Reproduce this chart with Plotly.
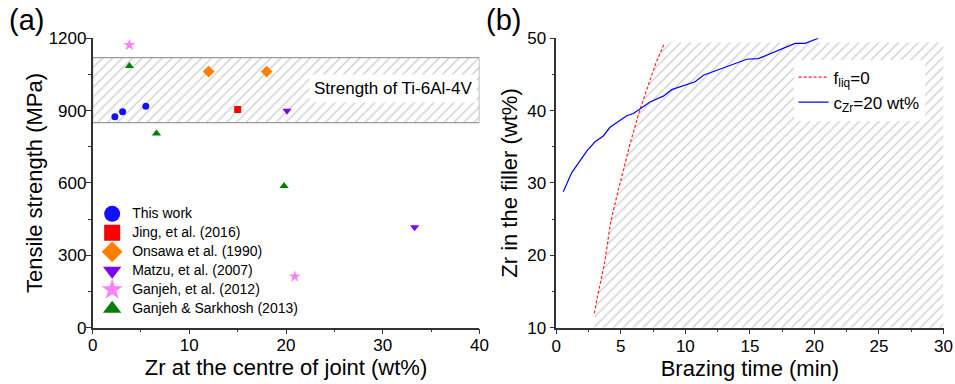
import plotly.graph_objects as go

# ---------------- Panel (a) data ----------------
this_work_x = [2.3, 3.1, 5.5]
this_work_y = [875, 895, 918]
jing_x = [15.0]
jing_y = [905]
onsawa_x = [12.0, 18.0]
onsawa_y = [1062, 1062]
matzu_x = [20.1, 33.3]
matzu_y = [900, 416]
ganjeh12_x = [3.8, 20.9]
ganjeh12_y = [1172, 212]
ganjeh13_x = [3.8, 6.6, 19.8]
ganjeh13_y = [1085, 805, 588]
band_low, band_high = 850, 1120
band_x = [0, 40]

# ---------------- Panel (b) data ----------------
fliq_x = [2.95, 3.2, 3.75, 4.2, 4.8, 5.7, 6.4, 7.1, 7.7, 8.35]
fliq_y = [12.0, 14.4, 19.0, 24.5, 29.0, 35.3, 39.7, 43.4, 46.5, 49.2]
czr_x = [0.54, 1.19, 2.36, 3.0, 3.64, 4.16, 5.46, 5.97, 7.26, 8.29, 8.94,
         10.75, 11.4, 14.76, 15.66, 18.5, 19.28, 20.3]
czr_y = [28.8, 31.4, 34.4, 35.7, 36.5, 37.7, 39.3, 39.6, 41.2, 42.0, 42.9,
         44.0, 44.9, 47.1, 47.2, 49.3, 49.3, 50.0]
region_top = 49.4
region_right = 30
region_bottom = 10

FONT = "Liberation Sans, Arial, sans-serif"
AX = "#333333"
HATCH = dict(shape="/", fgcolor="#9a9a9a", bgcolor="white", size=7, solidity=0.18)

fig = go.Figure()

# band in (a)
fig.add_trace(go.Scatter(
    x=[band_x[0], band_x[1], band_x[1], band_x[0], band_x[0]],
    y=[band_low, band_low, band_high, band_high, band_low],
    mode="lines", fill="toself", fillpattern=HATCH, fillcolor="white",
    line=dict(color="#9a9a9a", width=1.2), showlegend=False, hoverinfo="skip",
    xaxis="x", yaxis="y"))

series = [
    ("This work", this_work_x, this_work_y, "circle", "#1010ff", 7),
    ("Jing, et al. (2016)", jing_x, jing_y, "square", "#ff0000", 7),
    ("Onsawa et al. (1990)", onsawa_x, onsawa_y, "diamond", "#ff8000", 9),
    ("Matzu, et al. (2007)", matzu_x, matzu_y, "triangle-down", "#8000ff", 8),
    ("Ganjeh, et al. (2012)", ganjeh12_x, ganjeh12_y, "star", "#ff80ff", 9),
    ("Ganjeh & Sarkhosh (2013)", ganjeh13_x, ganjeh13_y, "triangle-up", "#008000", 8),
]
for name, xs, ys, sym, col, sz in series:
    fig.add_trace(go.Scatter(x=xs, y=ys, mode="markers", name=name,
                             marker=dict(symbol=sym, color=col, size=sz, line=dict(width=0)),
                             showlegend=False, xaxis="x", yaxis="y"))
    fig.add_trace(go.Scatter(x=[None], y=[None], mode="markers",
                             name='<span style="font-size:14px">' + name + '</span>',
                             marker=dict(symbol=sym, color=col, size=16, line=dict(width=0)),
                             showlegend=True, legend="legend", xaxis="x", yaxis="y"))

# hatched region in (b)
poly_x = fliq_x + [fliq_x[-1], region_right, region_right, fliq_x[0]]
poly_y = fliq_y + [region_top, region_top, region_bottom, region_bottom]
fig.add_trace(go.Scatter(
    x=poly_x, y=poly_y, mode="lines", fill="toself", fillpattern=HATCH,
    fillcolor="white", line=dict(width=0, color="rgba(0,0,0,0)"),
    showlegend=False, hoverinfo="skip", xaxis="x2", yaxis="y2"))

fig.add_trace(go.Scatter(x=fliq_x, y=fliq_y, mode="lines", name="f<sub>liq</sub>=0",
                         line=dict(color="#ff2020", width=1.2, dash="3px,2px"),
                         legend="legend2", xaxis="x2", yaxis="y2"))
fig.add_trace(go.Scatter(x=czr_x, y=czr_y, mode="lines", name="c<sub>Zr</sub>=20 wt%",
                         line=dict(color="#0000ff", width=1.2),
                         legend="legend2", xaxis="x2", yaxis="y2"))

axis_common = dict(showline=True, linecolor=AX, linewidth=1.5, mirror=False,
                   ticks="outside", ticklen=5, tickwidth=1.3, tickcolor=AX,
                   showgrid=False, zeroline=False, automargin=False,
                   tickfont=dict(family=FONT, size=17, color="black"))
minor_common = dict(ticklen=3, ticks="outside", tickcolor=AX)

fig.update_layout(
    width=955, height=384,
    margin=dict(l=0, r=0, t=0, b=0, autoexpand=False),
    paper_bgcolor="white", plot_bgcolor="white",
    font=dict(family=FONT, color="black"),
    xaxis=dict(domain=[0.097, 0.502], range=[0, 40], dtick=10,
               minor=dict(dtick=5, **minor_common), ticklabelstandoff=-4,
               title=dict(text="Zr at the centre of joint (wt%)", font=dict(size=22), standoff=2),
               anchor="y", **axis_common),
    yaxis=dict(domain=[0.1466, 0.9003], range=[0, 1200], dtick=300,
               minor=dict(dtick=150, **minor_common), ticklabelstandoff=-4,
               title=dict(text="Tensile strength (MPa)", font=dict(size=22), standoff=0),
               anchor="x", **axis_common),
    xaxis2=dict(domain=[0.5825, 0.988], range=[0, 30], dtick=5,
                minor=dict(dtick=2.5, **minor_common), ticklabelstandoff=-3,
                title=dict(text="Brazing time (min)", font=dict(size=22), standoff=2),
                anchor="y2", **axis_common),
    yaxis2=dict(domain=[0.1466, 0.9003], range=[10, 50], dtick=10,
                minor=dict(dtick=5, **minor_common),
                title=dict(text="Zr in the filler (wt%)", font=dict(size=22), standoff=4),
                anchor="x2", **axis_common),
    legend=dict(x=0.0965, y=0.481, xanchor="left", yanchor="top",
                bgcolor="rgba(0,0,0,0)", font=dict(size=12), tracegroupgap=0,
                itemsizing="trace"),
    legend2=dict(x=0.831, y=0.845, xanchor="left", yanchor="top",
                 bgcolor="white", font=dict(size=17)),
    annotations=[
        dict(text="(a)", x=0.007, y=0.995, xref="paper", yref="paper", xanchor="left",
             yanchor="top", showarrow=False, font=dict(size=29)),
        dict(text="(b)", x=0.507, y=0.995, xref="paper", yref="paper", xanchor="left",
             yanchor="top", showarrow=False, font=dict(size=29)),
        dict(text="Strength of Ti-6Al-4V", x=31.1, y=990, xref="x", yref="y",
             showarrow=False, bgcolor="white", font=dict(size=17), borderpad=4),
    ],
)

fig.write_html("out.html", config={"displayModeBar": False},
               post_script="document.body.style.margin='0';")
